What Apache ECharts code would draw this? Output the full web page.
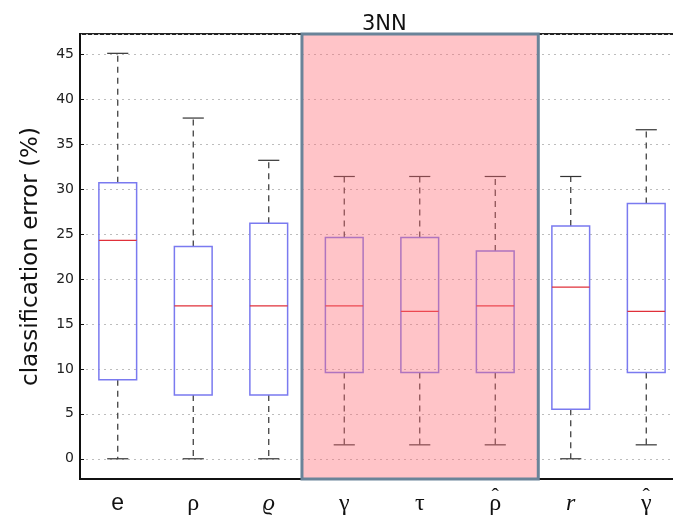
<!DOCTYPE html>
<html>
<head>
<meta charset="utf-8">
<script src="https://cdn.jsdelivr.net/npm/echarts@6/dist/echarts.min.js"></script>
<style>html,body{margin:0;padding:0;background:#fff;}#chart{width:673px;height:521px;}</style>
</head>
<body>
<div id="chart"></div>
<script>
const categories = ['e', 'ρ', 'ϱ', 'γ', 'τ', 'ρ̂', 'r', 'γ̂'];
const lowerWhisker = [0, 0, 0, 1.55, 1.55, 1.55, 0, 1.55];
const q1 = [8.8, 7.1, 7.1, 9.6, 9.6, 9.6, 5.5, 9.6];
const median = [24.3, 17.0, 17.0, 17.0, 16.4, 17.0, 19.1, 16.4];
const q3 = [30.7, 23.6, 26.2, 24.6, 24.6, 23.1, 25.9, 28.4];
const upperWhisker = [45.1, 37.9, 33.2, 31.4, 31.4, 31.4, 31.4, 36.6];
const highlightFrom = 'γ';
const highlightTo = 'ρ̂';
const titleText = '3NN';
const yName = 'classification error (%)';

const boxData = categories.map((c, i) => [i, lowerWhisker[i], q1[i], median[i], q3[i], upperWhisker[i]]);
const hlData = [[categories.indexOf(highlightFrom), categories.indexOf(highlightTo), 0]];

function renderBox(params, api) {
  const i = api.value(0);
  const band = api.size([1, 0])[0];
  const cx = api.coord([i, 0])[0];
  const y = k => api.coord([i, api.value(k)])[1];
  const yMin = y(1), yQ1 = y(2), yMed = y(3), yQ3 = y(4), yMax = y(5);
  const hw = band * 0.25, cw = band * 0.14;
  const dash = {stroke: '#333', lineWidth: 1.2, lineDash: [6, 5]};
  const solid = {stroke: '#333', lineWidth: 1.2};
  return {
    type: 'group',
    children: [
      {type: 'line', shape: {x1: cx, y1: yQ3, x2: cx, y2: yMax}, style: dash},
      {type: 'line', shape: {x1: cx, y1: yQ1, x2: cx, y2: yMin}, style: dash},
      {type: 'line', shape: {x1: cx - cw, y1: yMax, x2: cx + cw, y2: yMax}, style: solid},
      {type: 'line', shape: {x1: cx - cw, y1: yMin, x2: cx + cw, y2: yMin}, style: solid},
      {type: 'rect', shape: {x: cx - hw, y: yQ3, width: hw * 2, height: yQ1 - yQ3},
        style: {fill: 'none', stroke: '#7a7af0', lineWidth: 1.5}},
      {type: 'line', shape: {x1: cx - hw, y1: yMed, x2: cx + hw, y2: yMed},
        style: {stroke: '#e0303a', lineWidth: 1.2}}
    ]
  };
}

function renderHighlight(params, api) {
  const band = api.size([1, 0])[0];
  const x0 = api.coord([api.value(0), 0])[0] - band * 0.56;
  const x1 = api.coord([api.value(1), 0])[0] + band * 0.57;
  const cs = params.coordSys;
  return {
    type: 'rect',
    shape: {x: x0, y: cs.y, width: x1 - x0, height: cs.height},
    style: {fill: 'rgba(255,108,118,0.4)', stroke: '#6a8499', lineWidth: 3}
  };
}

function xLabel(v, i) {
  const hat = v.indexOf('\u0302') >= 0;
  const base = v.replace('\u0302', '');
  const style = i === 0 ? 's' : (base === 'ϱ' || base === 'r' ? 'i' : 'n');
  return '{h|' + (hat ? 'ˆ' : ' ') + '}\n{' + style + '|' + base + '}';
}

const serif = "'Liberation Serif','DejaVu Serif',serif";
const sans = "'DejaVu Sans','Liberation Sans',Arial,sans-serif";
const chart = echarts.init(document.getElementById('chart'), null, {renderer: 'canvas'});
chart.setOption({
  animation: false,
  backgroundColor: '#fff',
  title: {
    text: titleText, left: 357, top: 9,
    textStyle: {fontFamily: sans, fontSize: 21, fontWeight: 'normal', color: '#111'}
  },
  grid: {left: 80, width: 604, top: 34, bottom: 42, outerBoundsMode: 'none', containLabel: false,
    show: true, borderColor: '#222', borderWidth: 2, backgroundColor: '#fff'},
  xAxis: {
    type: 'category', data: categories, boundaryGap: true,
    axisLine: {show: true, onZero: false, lineStyle: {color: '#111', width: 2}},
    axisTick: {show: false},
    splitLine: {show: false},
    axisLabel: {
      margin: 12,
      formatter: xLabel,
      rich: {
        h: {fontFamily: serif, fontSize: 22, lineHeight: 12, color: '#111', align: 'center'},
        s: {fontFamily: "'Liberation Sans',Arial,sans-serif", fontSize: 23, lineHeight: 2, color: '#111', align: 'center'},
        n: {fontFamily: serif, fontSize: 24, lineHeight: 2, color: '#111', align: 'center'},
        i: {fontFamily: serif, fontStyle: 'italic', fontSize: 24, lineHeight: 2, color: '#111', align: 'center'}
      }
    }
  },
  yAxis: {
    type: 'value', min: -2.25, max: 47.25, splitNumber: 10,
    name: yName, nameLocation: 'middle', nameGap: 37,
    nameTextStyle: {fontFamily: sans, fontSize: 23, color: '#111'},
    axisLine: {show: true, lineStyle: {color: '#111', width: 2}},
    axisTick: {show: true, inside: true, length: 4, lineStyle: {color: '#111'}},
    axisLabel: {
      showMinLabel: false, showMaxLabel: false, margin: 6,
      fontFamily: sans, fontSize: 14, color: '#222'
    },
    splitLine: {show: true, lineStyle: {color: '#bdbdbd', type: [2, 4], width: 1}}
  },
  series: [
    {type: 'custom', name: 'box', data: boxData, encode: {x: 0, y: [1, 2, 3, 4, 5]}, renderItem: renderBox, z: 2},
    {type: 'custom', name: 'highlight', data: hlData, encode: {x: [0, 1], y: 2}, renderItem: renderHighlight, z: 5, silent: true}
  ]
});
</script>
</body>
</html>
